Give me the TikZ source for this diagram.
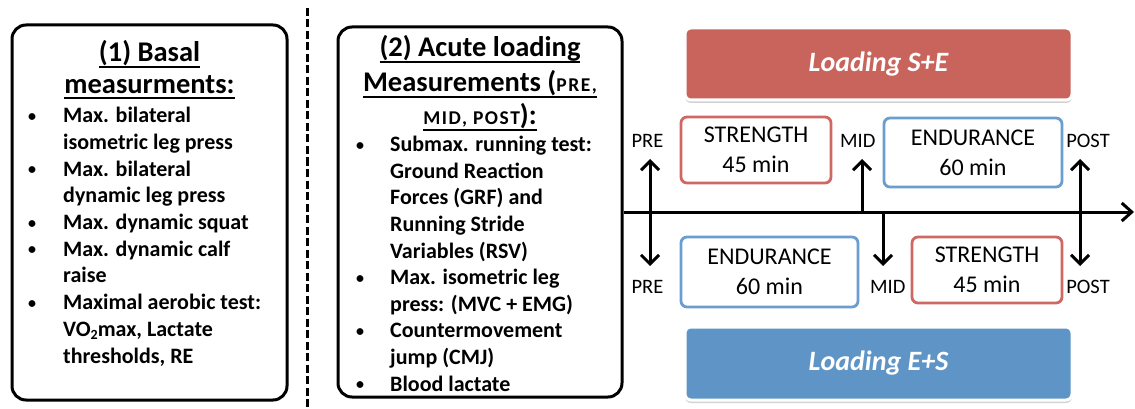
\documentclass[tikz,border=0pt]{standalone}
\usepackage{fontspec}
\setmainfont{Carlito}
\usetikzlibrary{arrows.meta,shadows}
\definecolor{bannerred}{RGB}{200,100,92}
\definecolor{bannerblue}{RGB}{94,149,198}
\definecolor{boxred}{RGB}{205,104,98}
\definecolor{boxblue}{RGB}{106,157,208}
\newcommand\hul[1]{\setbox0\hbox{#1}\rlap{\vrule height -4pt depth 6.2pt width \wd0}\box0}
\newcommand\bodyfont{\fontsize{22}{26.7}\selectfont\bfseries}
\newcommand\headfont{\fontsize{28.5}{30}\selectfont\bfseries}
\newcommand\smallhead{\fontsize{19.5}{22}\selectfont\addfontfeatures{LetterSpace=8}}
\newcommand\dotmark{\raisebox{1.5pt}{\fontsize{16}{16}\selectfont •}}
\begin{document}
\begin{tikzpicture}[x=1pt,y=-1pt,
  txt/.style={inner sep=0pt, font=\bodyfont, anchor=base west},
  bul/.style={inner sep=0pt, font=\bodyfont, anchor=base},
  head/.style={inner sep=0pt, font=\headfont, anchor=base},
  bigbox/.style={draw, line width=3pt, rounded corners=14pt},
  tbox/.style={draw, line width=2.8pt, rounded corners=6pt, align=center, font=\fontsize{24}{30}\selectfont, inner sep=0pt},
  banner/.style={draw=white, line width=3pt, rounded corners=6pt, drop shadow={shadow xshift=0pt, shadow yshift=-3pt, opacity=0.35}, text=white, font=\fontsize{28}{30}\selectfont\bfseries\itshape},
  lbl/.style={inner sep=0pt, anchor=base, font=\fontsize{20.5}{24}\selectfont},
  axis/.style={line width=3pt, -{Straight Barb[length=10pt,width=18pt]}},
  darr/.style={line width=3pt, {Straight Barb[length=9pt,width=18pt]}-{Straight Barb[length=9pt,width=18pt]}},
  divider/.style={line width=3pt, dash pattern=on 8pt off 3.5pt}
]
\useasboundingbox (0,0) rectangle (1135,409);

% divider
\coordinate (dv0) at (307,8);
\coordinate (dv1) at (307,409);
\draw[divider] (dv0) -- (dv1);

% box 1
\node[bigbox, minimum width=275pt, minimum height=375pt] (b1) at (149.5,212.5) {};
\node[head] (h1a) at (149.5,61.7) {\hul{(1) Basal}};
\node[head] (h1b) at (149.5,93.3) {\hul{measurments:}};
\node[bul] (p1) at (32,122.7) {\dotmark};
\node[txt] (t1a) at (63,122.7) {Max. bilateral};
\node[txt] (t1b) at (63,149.4) {isometric leg press};
\node[bul] (p2) at (32,176.1) {\dotmark};
\node[txt] (t1c) at (63,176.1) {Max. bilateral};
\node[txt] (t1d) at (63,202.8) {dynamic leg press};
\node[bul] (p3) at (32,229.5) {\dotmark};
\node[txt] (t1e) at (63,229.5) {Max. dynamic squat};
\node[bul] (p4) at (32,256.2) {\dotmark};
\node[txt] (t1f) at (63,256.2) {Max. dynamic calf};
\node[txt] (t1g) at (63,282.9) {raise};
\node[bul] (p5) at (32,309.6) {\dotmark};
\node[txt] (t1h) at (63,309.6) {Maximal aerobic test:};
\node[txt] (t1i) at (63,336.3) {VO\raisebox{-3pt}{\fontsize{14}{14}\selectfont 2}max, Lactate};
\node[txt] (t1j) at (63,363.0) {thresholds, RE};

% box 2
\node[bigbox, minimum width=284pt, minimum height=370pt] (b2) at (480,212) {};
\node[head] (h2a) at (480,56.7) {\hul{(2) Acute loading}};
\node[head] (h2b) at (480,91.7) {\hul{Measurements ({\smallhead PRE,}}};
\node[head] (h2c) at (480,125) {\hul{{\smallhead MID, POST}):}};
\node[bul] (q1) at (360,151.7) {\dotmark};
\node[txt] (t2a) at (390,151.7) {Submax. running test:};
\node[txt] (t2b) at (390,178.3) {Ground Reaction};
\node[txt] (t2c) at (390,204.9) {Forces (GRF) and};
\node[txt] (t2d) at (390,231.5) {Running Stride};
\node[txt] (t2e) at (390,258.1) {Variables (RSV)};
\node[bul] (q2) at (360,284.7) {\dotmark};
\node[txt] (t2f) at (390,284.7) {Max. isometric leg};
\node[txt] (t2g) at (390,311.3) {press: (MVC + EMG)};
\node[bul] (q3) at (360,337.9) {\dotmark};
\node[txt] (t2h) at (390,337.9) {Countermovement};
\node[txt] (t2i) at (390,364.5) {jump (CMJ)};
\node[bul] (q4) at (360,391.1) {\dotmark};
\node[txt] (t2j) at (390,391.1) {Blood lactate};

% banners
\node[banner, fill=bannerred, minimum width=387pt, minimum height=72pt] (bse) at (878.5,64) {Loading S+E};
\node[banner, fill=bannerblue, minimum width=387pt, minimum height=73pt] (bes) at (878.5,363.5) {Loading E+S};

% timeline boxes
\node[tbox, draw=boxred, minimum width=150pt, minimum height=66pt] (s1) at (756,150) {STRENGTH\\45 min};
\node[tbox, draw=boxblue, minimum width=178pt, minimum height=69pt] (e1) at (973,152.5) {ENDURANCE\\60 min};
\node[tbox, draw=boxblue, minimum width=177pt, minimum height=70pt] (e2) at (769.5,272) {ENDURANCE\\60 min};
\node[tbox, draw=boxred, minimum width=150pt, minimum height=66pt] (s2) at (987,270) {STRENGTH\\45 min};

% labels
\node[lbl] (pre1) at (647.5,147) {PRE};
\node[lbl] (mid1) at (857.7,147) {MID};
\node[lbl] (post1) at (1088,147) {POST};
\node[lbl] (pre2) at (647.5,293) {PRE};
\node[lbl] (mid2) at (887.7,293) {MID};
\node[lbl] (post2) at (1088,293) {POST};

% timeline
\coordinate (tlend) at (1134,212);
\draw[axis] (b2.east) -- (tlend);

% arrows
\coordinate (preA) at (650,159);
\coordinate (preB) at (650,266);
\draw[darr] (preA) -- (preB);
\coordinate (postA) at (1080,159);
\coordinate (postB) at (1080,266);
\draw[darr] (postA) -- (postB);
\coordinate (midA) at (862,159);
\coordinate (midB) at (862,212);
\coordinate (midC) at (883,212);
\coordinate (midD) at (883,266);
\draw[darr] (midA) -- (midB) -- (midC) -- (midD);
\end{tikzpicture}
\end{document}
